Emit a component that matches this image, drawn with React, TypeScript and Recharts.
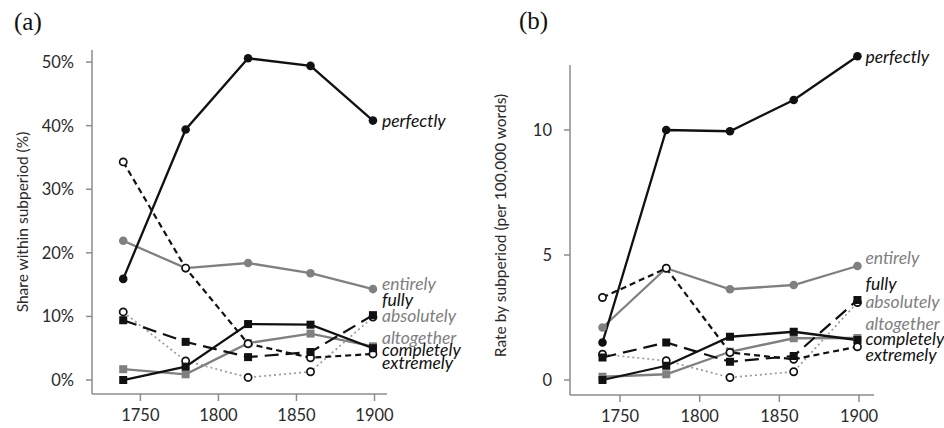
import React from 'react';
import {
  LineChart,
  Line,
  XAxis,
  YAxis,
  LabelList,
  ReferenceLine,
} from 'recharts';

// subperiod midpoints
const years = [1739, 1779, 1819, 1859, 1899];
const xTicks = [1750, 1800, 1850, 1900];
const shareTicks = [0, 10, 20, 30, 40, 50];
const rateTicks = [0, 5, 10];

// (a) share within subperiod (%)
const perfectlyShare = [15.9, 39.4, 50.6, 49.4, 40.8];
const entirelyShare = [21.9, 17.6, 18.4, 16.8, 14.3];
const fullyShare = [9.4, 6.0, 3.6, 4.4, 10.2];
const absolutelyShare = [10.7, 3.0, 0.4, 1.3, 9.9];
const altogetherShare = [1.7, 0.9, 5.8, 7.3, 5.3];
const completelyShare = [0, 2.1, 8.8, 8.7, 5.0];
const extremelyShare = [34.3, 17.6, 5.7, 3.5, 4.1];

// (b) rate per 100,000 words
const perfectlyRate = [1.5, 10.0, 9.95, 11.2, 12.95];
const entirelyRate = [2.1, 4.47, 3.63, 3.8, 4.56];
const fullyRate = [0.9, 1.5, 0.73, 0.96, 3.2];
const absolutelyRate = [1.03, 0.77, 0.1, 0.33, 3.1];
const altogetherRate = [0.13, 0.23, 1.13, 1.67, 1.68];
const completelyRate = [0, 0.57, 1.73, 1.93, 1.6];
const extremelyRate = [3.3, 4.47, 1.1, 0.83, 1.33];

const shareData = years.map((year, i) => ({
  year,
  perfectly: perfectlyShare[i],
  entirely: entirelyShare[i],
  fully: fullyShare[i],
  absolutely: absolutelyShare[i],
  altogether: altogetherShare[i],
  completely: completelyShare[i],
  extremely: extremelyShare[i],
}));

const rateData = years.map((year, i) => ({
  year,
  perfectly: perfectlyRate[i],
  entirely: entirelyRate[i],
  fully: fullyRate[i],
  absolutely: absolutelyRate[i],
  altogether: altogetherRate[i],
  completely: completelyRate[i],
  extremely: extremelyRate[i],
}));

const BLACK = '#111';
const GRAY = '#808080';
const AXIS = '#8c8c8c';
const FONT = 'Lato, "Open Sans", sans-serif';

type Marker = 'dot' | 'open' | 'square';

const series: {
  key: string;
  color: string;
  lineColor: string;
  dash?: string;
  width: number;
  marker: Marker;
}[] = [
  { key: 'absolutely', color: GRAY, lineColor: '#9a9a9a', dash: '2 3', width: 1.7, marker: 'open' },
  { key: 'altogether', color: GRAY, lineColor: GRAY, width: 2.3, marker: 'square' },
  { key: 'entirely', color: GRAY, lineColor: GRAY, width: 2.3, marker: 'dot' },
  { key: 'extremely', color: BLACK, lineColor: BLACK, dash: '6 4', width: 2.2, marker: 'open' },
  { key: 'fully', color: BLACK, lineColor: BLACK, dash: '14 7', width: 2.2, marker: 'square' },
  { key: 'completely', color: BLACK, lineColor: BLACK, width: 2.3, marker: 'square' },
  { key: 'perfectly', color: BLACK, lineColor: BLACK, width: 2.3, marker: 'dot' },
];

// label nudges (px) at the right end of each line
const shareLabelDy: Record<string, number> = {
  perfectly: 0, entirely: -5, fully: -15, absolutely: -1,
  altogether: -8, completely: 2, extremely: 9,
};
const rateLabelDy: Record<string, number> = {
  perfectly: 1, entirely: -8, fully: -16, absolutely: -1,
  altogether: -14, completely: -1, extremely: 8,
};

function makeDot(kind: Marker, color: string) {
  return (p: any) => {
    const { cx, cy, index } = p;
    if (cx == null || cy == null) return <g key={index} />;
    if (kind === 'square')
      return <rect key={index} x={cx - 4} y={cy - 4} width={8} height={8} fill={color} />;
    if (kind === 'open')
      return <circle key={index} cx={cx} cy={cy} r={3.6} fill="#fff" stroke={BLACK} strokeWidth={1.7} />;
    return <circle key={index} cx={cx} cy={cy} r={4.3} fill={color} />;
  };
}

function makeLabel(name: string, color: string, dx: number, dy: number, last: number) {
  return (p: any) => {
    if (p.index !== last) return null;
    const x = p.x ?? p.viewBox?.x;
    const y = p.y ?? p.viewBox?.y;
    return (
      <text
        x={x + dx}
        y={y + dy}
        dy="0.35em"
        fill={color}
        fontStyle="italic"
        fontSize={17.5}
        fontFamily={FONT}
      >
        {name}
      </text>
    );
  };
}

const tickStyle = { fontSize: 16.5, fill: '#2a2a2a', fontFamily: FONT };

function Panel({
  data,
  yDomain,
  yTicks,
  xDomain,
  yFormat,
  yLabel,
  labelDy,
  labelDx,
  margin,
  yAxisTop,
}: any) {
  return (
    <LineChart width={472} height={428} data={data} margin={margin}>
      <XAxis
        dataKey="year"
        type="number"
        domain={xDomain}
        ticks={xTicks}
        allowDataOverflow
        stroke={AXIS}
        strokeWidth={1.5}
        tickSize={7}
        tickMargin={8}
        height={30}
        tick={tickStyle}
      />
      <YAxis
        type="number"
        domain={yDomain}
        ticks={yTicks}
        width={80}
        axisLine={yAxisTop == null ? { stroke: AXIS, strokeWidth: 1.5 } : false}
        tickLine={{ stroke: AXIS, strokeWidth: 1.5 }}
        tickSize={6}
        tickMargin={12}
        tickFormatter={yFormat}
        tick={tickStyle}
        label={{
          value: yLabel,
          angle: -90,
          position: 'insideLeft',
          offset: 10,
          style: { textAnchor: 'middle', fontSize: 15.5, fill: '#2a2a2a', fontFamily: FONT },
        }}
      />
      {yAxisTop != null && (
        <ReferenceLine
          segment={[
            { x: xDomain[0], y: yDomain[0] },
            { x: xDomain[0], y: yAxisTop },
          ]}
          stroke={AXIS}
          strokeWidth={1.5}
        />
      )}
      {series.map((s) => (
        <Line
          key={s.key}
          dataKey={s.key}
          type="linear"
          stroke={s.lineColor}
          strokeWidth={s.width}
          strokeDasharray={s.dash}
          dot={makeDot(s.marker, s.color)}
          activeDot={false}
          isAnimationActive={false}
        >
          <LabelList
            dataKey={s.key}
            content={makeLabel(s.key, s.color, labelDx, labelDy[s.key], years.length - 1)}
          />
        </Line>
      ))}
    </LineChart>
  );
}

const titleStyle: React.CSSProperties = {
  position: 'absolute',
  fontFamily: '"Liberation Serif", serif',
  fontSize: 25,
  lineHeight: 1,
  color: '#111',
};

export default function App() {
  return (
    <div style={{ position: 'absolute', left: 0, top: 0, width: 944, height: 428, background: '#fff' }}>
      <div style={{ ...titleStyle, left: 14, top: 9 }}>(a)</div>
      <div style={{ ...titleStyle, left: 519, top: 8 }}>(b)</div>
      <div style={{ position: 'absolute', left: 0, top: 0 }}>
        <Panel
          data={shareData}
          xDomain={[1719, 1908]}
          yDomain={[-2.2, 51.9]}
          yTicks={shareTicks}
          yFormat={(v: number) => `${v}%`}
          yLabel="Share within subperiod (%)"
          labelDy={shareLabelDy}
          labelDx={9}
          margin={{ top: 50, right: 85, bottom: 4, left: 12 }}
        />
      </div>
      <div style={{ position: 'absolute', left: 472, top: 0 }}>
        <Panel
          data={rateData}
          xDomain={[1718.6, 1909.4]}
          yDomain={[-0.6, 12.96]}
          yTicks={rateTicks}
          yFormat={(v: number) => `${v}`}
          yLabel="Rate by subperiod (per 100,000 words)"
          labelDy={rateLabelDy}
          labelDx={8}
          yAxisTop={12.6}
          margin={{ top: 56, right: 70, bottom: 3, left: 18 }}
        />
      </div>
    </div>
  );
}
